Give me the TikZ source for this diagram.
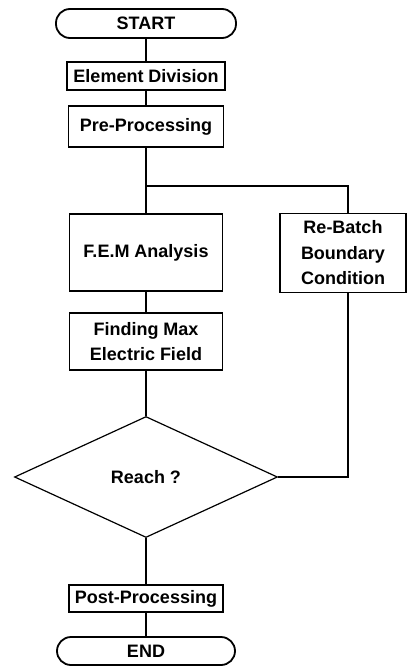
\documentclass[tikz,border=0pt]{standalone}
\usepackage{fontspec}
\setmainfont{Liberation Sans}
\usetikzlibrary{shapes.geometric}
\begin{document}
\begin{tikzpicture}[x=1pt,y=-1pt,
  box/.style={draw,line width=1.8pt,inner sep=0pt,align=center,font=\bfseries\fontsize{18}{25.5}\selectfont},
  term/.style={box,rounded corners=14pt},
  dec/.style={draw,line width=1.2pt,shape=diamond,inner sep=0pt,font=\bfseries\fontsize{18}{26}\selectfont},
  conn/.style={line width=1.8pt}]
\useasboundingbox (0,0) rectangle (417,666);
\node[term,minimum width=180pt,minimum height=29pt] (start) at (146,23.5) {START};
\node[box,minimum width=158pt,minimum height=28pt] (elem) at (146,76) {Element Division};
\node[box,minimum width=155pt,minimum height=41pt] (pre) at (146,126.5) {Pre-Processing};
\node[box,minimum width=153pt,minimum height=77pt] (fem) at (146,252.5) {F.E.M Analysis};
\node[box,minimum width=126pt,minimum height=79pt] (rb) at (343,253) {Re-Batch\\Boundary\\Condition};
\node[box,minimum width=153pt,minimum height=57pt] (find) at (146,341.5) {Finding Max\\Electric Field};
\node[dec,minimum width=263pt,minimum height=121pt] (dia) at (146,477) {Reach ?};
\node[box,minimum width=154pt,minimum height=27pt] (post) at (146,598.5) {Post-Processing};
\node[term,minimum width=178pt,minimum height=28pt] (end) at (146,651) {END};
\coordinate (j) at (146,186);
\coordinate (jr) at (348,186);
\coordinate (jd) at (348,477);
\draw[conn] (start) -- (elem);
\draw[conn] (elem) -- (pre);
\draw[conn] (pre) -- (fem);
\draw[conn] (j) -- (jr) -- (rb.north -| jr);
\draw[conn] (fem) -- (find);
\draw[conn] (find) -- (dia);
\draw[conn] (rb.south -| jd) -- (jd) -- (dia.east);
\draw[conn] (dia) -- (post);
\draw[conn] (post) -- (end);
\end{tikzpicture}
\end{document}
